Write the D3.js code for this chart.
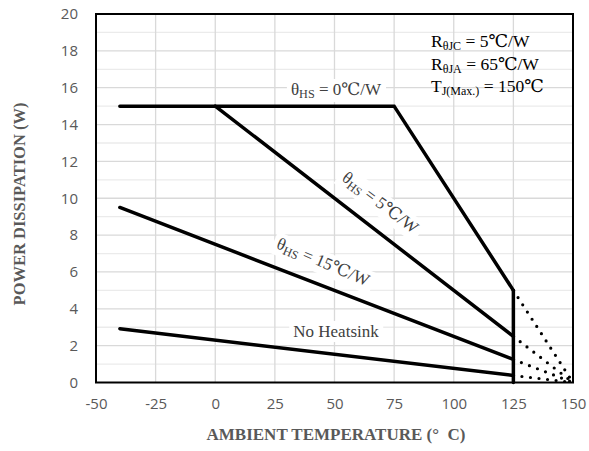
<!DOCTYPE html>
<html><head><meta charset="utf-8">
<script src="https://cdn.jsdelivr.net/npm/d3@7/dist/d3.min.js"></script>
<style>body{margin:0;background:#fff}svg{display:block}</style>
</head><body><svg id="c" width="589" height="451"></svg>
<script>
// ---- data ----
const xTicks = [-50, -25, 0, 25, 50, 75, 100, 125, 150];
const yTicks = [0, 2, 4, 6, 8, 10, 12, 14, 16, 18, 20];
const hs0T = [-40, 75, 125],  hs0P = [15, 15, 5];
const hs5T = [0, 125],        hs5P = [15, 2.5];
const hs15T = [-40, 125],     hs15P = [9.5, 1.25];
const noHsT = [-40, 125],     noHsP = [2.92, 0.38];
const cutT = [125, 125],      cutP = [5, 0];
const tjMax = 150;
const infoLines = [["R","θJC"," = 5℃/W"],["R","θJA"," = 65℃/W"],["T","J(Max.)"," = 150℃"]];

const SERIF = "'Liberation Serif','Times New Roman','DejaVu Serif',serif";
const svg = d3.select("#c");
const x = d3.scaleLinear().domain([-50, 150]).range([96, 573]);
const y = d3.scaleLinear().domain([0, 20]).range([382.5, 14]);

// grid
const g = svg.append("g");
g.selectAll(".minor").data(d3.range(1, 20, 2)).join("line")
  .attr("x1", x(-50)).attr("x2", x(150)).attr("y1", d => y(d)).attr("y2", d => y(d))
  .attr("stroke", "#ebebeb").attr("stroke-width", 1.3);
g.selectAll(".major").data(yTicks.slice(1, -1)).join("line")
  .attr("x1", x(-50)).attr("x2", x(150)).attr("y1", d => y(d)).attr("y2", d => y(d))
  .attr("stroke", "#d9d9d9").attr("stroke-width", 1.3);
g.selectAll(".vg").data(xTicks.slice(1, -1)).join("line")
  .attr("y1", y(0)).attr("y2", y(20)).attr("x1", d => x(d)).attr("x2", d => x(d))
  .attr("stroke", "#d9d9d9").attr("stroke-width", 1.3);

// axes tick labels
const fmt = d => String(d);
const yAxis = d3.axisLeft(y).tickValues(yTicks).tickFormat(fmt).tickSize(0).tickPadding(18);
const ya = svg.append("g").attr("transform", `translate(${x(-50)},0)`).call(yAxis);
const xAxis = d3.axisBottom(x).tickValues(xTicks).tickFormat(fmt).tickSize(0).tickPadding(16);
const xa = svg.append("g").attr("transform", `translate(0,${y(0)})`).call(xAxis);
[ya, xa].forEach(a => {
  a.select(".domain").remove();
  a.selectAll("text").attr("fill", "#595959").style("font-family", "'Open Sans','Liberation Sans',sans-serif").style("font-size", "15px");
});

// frame
svg.append("rect").attr("x", x(-50)).attr("y", y(20)).attr("width", x(150) - x(-50)).attr("height", y(0) - y(20))
  .attr("fill", "none").attr("stroke", "#000").attr("stroke-width", 2);

// labels with white background
function label(cx, cy, angle, parts, size, fill) {
  const grp = svg.append("g").attr("transform", `translate(${cx},${cy}) rotate(${angle})`);
  const rect = grp.append("rect").attr("fill", "#fff");
  const t = grp.append("text").attr("text-anchor", "middle").attr("fill", fill)
    .style("font-family", SERIF).style("font-size", size + "px");
  parts.forEach(p => {
    const ts = t.append("tspan").text(p.t);
    if (p.sub) ts.style("font-size", (size * 0.72) + "px").attr("dy", 3);
    if (p.up) ts.attr("dy", -3);
  });
  const b = t.node().getBBox();
  rect.attr("x", b.x - 4).attr("y", b.y - 1).attr("width", b.width + 8).attr("height", b.height + 2);
  return grp;
}

// lines
const line = d3.line().x(d => x(d[0])).y(d => y(d[1]));
const solid = [[hs0T, hs0P], [hs5T, hs5P], [hs15T, hs15P], [noHsT, noHsP], [cutT, cutP]];
const dotted = [[hs0T, hs0P], [hs5T, hs5P], [hs15T, hs15P], [noHsT, noHsP]];

label(336, 95, 0, [{t:"θ"},{t:"HS",sub:true},{t:" = 0℃/W",up:true}], 17, "#404040");
label(377, 207, 37, [{t:"θ"},{t:"HS",sub:true},{t:" = 5℃/W",up:true}], 17, "#404040");
label(321, 267, 23, [{t:"θ"},{t:"HS",sub:true},{t:" = 15℃/W",up:true}], 17, "#404040");
label(336, 337, 0, [{t:"No Heatsink"}], 17, "#404040");

dotted.forEach(([T, P]) => {
  const n = T.length - 1;
  svg.append("path").datum([[T[n], P[n]], [tjMax, 0]]).attr("d", line)
    .attr("fill", "none").attr("stroke", "#000").attr("stroke-width", 3.2)
    .attr("stroke-linecap", "round").attr("stroke-dasharray", "0 8.6");
});
solid.forEach(([T, P]) => {
  svg.append("path").datum(T.map((t, i) => [t, P[i]])).attr("d", line)
    .attr("fill", "none").attr("stroke", "#000").attr("stroke-width", 3.5)
    .attr("stroke-linecap", "round").attr("stroke-linejoin", "miter");
});

// info block
infoLines.forEach((l, i) => {
  const t = svg.append("text").attr("x", 431).attr("y", 47 + i * 22.5).attr("fill", "#000")
    .style("font-family", SERIF).style("font-size", "17.5px");
  t.append("tspan").text(l[0]);
  t.append("tspan").text(l[1]).style("font-size", "12px").attr("dy", 3);
  t.append("tspan").text(l[2]).attr("dy", -3);
});

// axis titles
svg.append("text").attr("x", 336).attr("y", 440).attr("text-anchor", "middle").attr("fill", "#595959")
  .style("font-family", SERIF).style("font-size", "17px").style("font-weight", "bold")
  .text("AMBIENT TEMPERATURE (°\u00a0\u00a0C)");
svg.append("text").attr("transform", "translate(25,204) rotate(-90)").attr("text-anchor", "middle").attr("fill", "#595959")
  .style("font-family", SERIF).style("font-size", "16.5px").style("font-weight", "bold")
  .text("POWER DISSIPATION (W)");
</script></body></html>
